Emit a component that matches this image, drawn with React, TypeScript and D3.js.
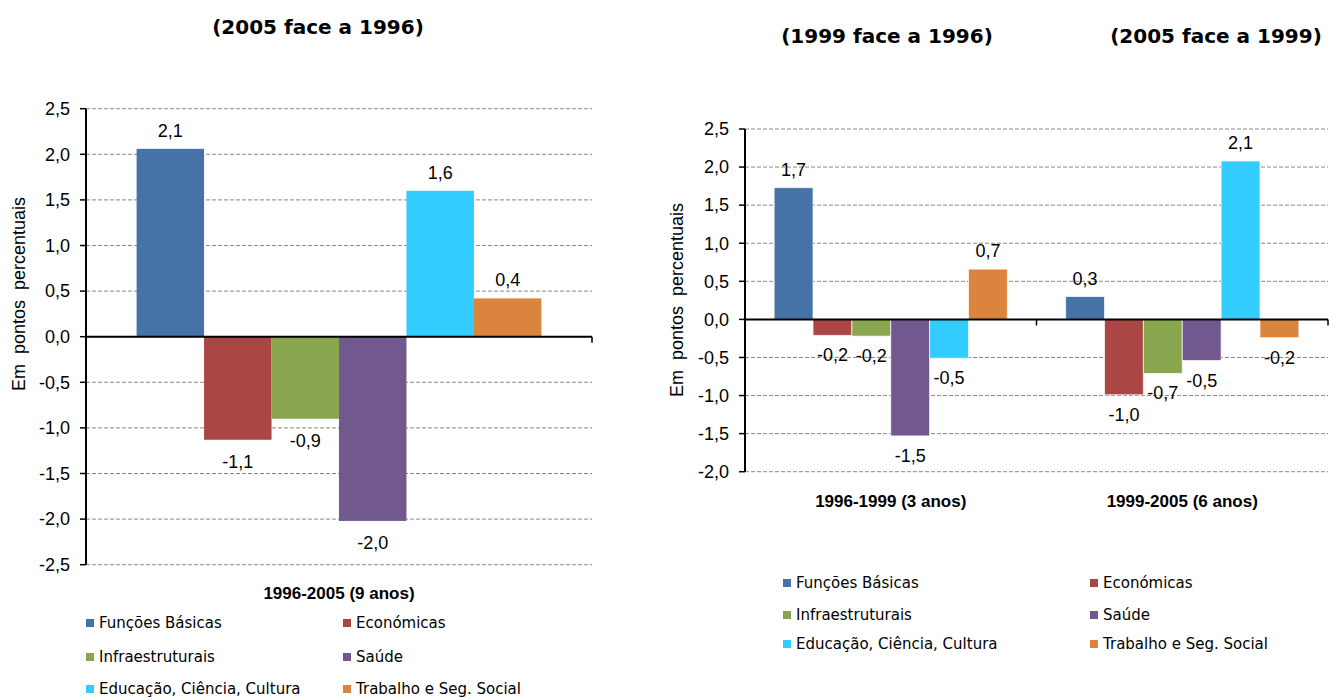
import React from "react";
import * as d3 from "d3";

const series = [
  "Funções Básicas",
  "Económicas",
  "Infraestruturais",
  "Saúde",
  "Educação, Ciência, Cultura",
  "Trabalho e Seg. Social",
];
const colors = ["#4572A7", "#AA4643", "#89A54E", "#71588F", "#33CCFF", "#DB843D"];

const leftCategories = ["1996-2005 (9 anos)"];
const leftValues = [[2.06, -1.13, -0.9, -2.02, 1.6, 0.42]];
const leftTicks = [-2.5, -2, -1.5, -1, -0.5, 0, 0.5, 1, 1.5, 2, 2.5];

const rightCategories = ["1996-1999 (3 anos)", "1999-2005 (6 anos)"];
const rightValues = [
  [1.73, -0.21, -0.22, -1.53, -0.51, 0.66],
  [0.3, -0.99, -0.71, -0.54, 2.08, -0.24],
];
const rightTicks = [-2, -1.5, -1, -0.5, 0, 0.5, 1, 1.5, 2, 2.5];

const titleLeft = "(2005 face a 1996)";
const titlesRight = ["(1999 face a 1996)", "(2005 face a 1999)"];
const yTitle = "Em  pontos  percentuais";

const locale = d3.formatLocale({
  decimal: ",",
  thousands: ".",
  grouping: [3],
  currency: ["", "€"],
  minus: "-",
});
const fmt = locale.format(".1f");

const AR = "Liberation Sans, Arial, sans-serif";
const DJ = "DejaVu Sans, sans-serif";

type PanelProps = {
  categories: string[];
  values: number[][];
  ticks: number[];
  x0: number;
  x1: number;
  yTop: number;
  yBot: number;
  domain: [number, number];
  catLabelY: number;
  negOffset: number;
  barStroke?: string;
  yTitleX: number;
  yTitleY: number;
};

function Panel(p: PanelProps) {
  const y = d3.scaleLinear().domain(p.domain).range([p.yBot, p.yTop]);
  const xCat = d3.scaleBand<string>().domain(p.categories).range([p.x0, p.x1]).padding(0);
  const xSer = d3
    .scaleBand<string>()
    .domain(series)
    .range([0, xCat.bandwidth()])
    .paddingInner(0)
    .paddingOuter(0.75);
  const y0 = y(0);
  return (
    <g>
      {p.ticks.map((t) => (
        <g key={"t" + t}>
          {t !== 0 && (
            <line
              x1={p.x0}
              x2={p.x1}
              y1={y(t)}
              y2={y(t)}
              stroke="#8a8a8a"
              strokeWidth={1}
              strokeDasharray="4,2"
            />
          )}
          <line x1={p.x0 - 6} x2={p.x0} y1={y(t)} y2={y(t)} stroke="#000" strokeWidth={1.5} />
          <text
            x={p.x0 - 16}
            y={y(t)}
            dy="0.35em"
            textAnchor="end"
            fontFamily={AR}
            fontSize={18}
            fill="#000"
          >
            {fmt(t)}
          </text>
        </g>
      ))}
      {p.categories.map((c, ci) => (
        <g key={c}>
          {p.values[ci].map((v, si) => {
            const bx = (xCat(c) as number) + (xSer(series[si]) as number);
            const bw = xSer.bandwidth();
            const top = Math.min(y(v), y0);
            const h = Math.abs(y(v) - y0);
            return (
              <g key={si}>
                <rect
                  x={bx}
                  y={top}
                  width={bw}
                  height={h}
                  fill={colors[si]}
                  stroke={p.barStroke || "none"}
                  strokeWidth={p.barStroke ? 1 : 0}
                />
                <text
                  x={bx + bw / 2}
                  y={v >= 0 ? y(v) - 12 : y(v) + p.negOffset}
                  textAnchor="middle"
                  fontFamily={AR}
                  fontSize={18}
                  fill="#000"
                >
                  {fmt(v)}
                </text>
              </g>
            );
          })}
          <text
            x={(xCat(c) as number) + xCat.bandwidth() / 2}
            y={p.catLabelY}
            textAnchor="middle"
            fontFamily={AR}
            fontWeight="bold"
            fontSize={17}
            fill="#000"
          >
            {c}
          </text>
          <line
            x1={(xCat(c) as number) + xCat.bandwidth()}
            x2={(xCat(c) as number) + xCat.bandwidth()}
            y1={y0}
            y2={y0 + 6}
            stroke="#000"
            strokeWidth={1.5}
          />
        </g>
      ))}
      <line x1={p.x0} x2={p.x1} y1={y0} y2={y0} stroke="#000" strokeWidth={2} />
      <line x1={p.x0} x2={p.x0} y1={p.yTop} y2={p.yBot} stroke="#000" strokeWidth={2} />
      <text
        transform={`translate(${p.yTitleX},${p.yTitleY}) rotate(-90)`}
        textAnchor="middle"
        dy="0.35em"
        fontFamily={AR}
        fontSize={18}
        fill="#000"
        style={{ whiteSpace: "pre" }}
      >
        {yTitle}
      </text>
    </g>
  );
}

function Legend({ x, x2, ys, fontSize }: { x: number; x2: number; ys: number[]; fontSize: number }) {
  return (
    <g>
      {series.map((s, i) => {
        const col = i % 2;
        const row = Math.floor(i / 2);
        const lx = col === 0 ? x : x2;
        const ly = ys[row];
        return (
          <g key={s}>
            <rect x={lx} y={ly - 4} width={8} height={8} fill={colors[i]} />
            <text
              x={lx + 13}
              y={ly}
              dy="0.36em"
              fontFamily={DJ}
              fontSize={fontSize}
              fill="#000"
              style={{ whiteSpace: "pre" }}
            >
              {s}
            </text>
          </g>
        );
      })}
    </g>
  );
}

export default function App() {
  return (
    <svg
      width={1329}
      height={699}
      style={{ position: "absolute", left: 0, top: 0, display: "block", background: "#fff" }}
    >
      <text x={318} y={34} textAnchor="middle" fontFamily={DJ} fontWeight="bold" fontSize={20} fill="#000">
        {titleLeft}
      </text>
      <text x={887} y={43} textAnchor="middle" fontFamily={DJ} fontWeight="bold" fontSize={20} fill="#000">
        {titlesRight[0]}
      </text>
      <text x={1216} y={43} textAnchor="middle" fontFamily={DJ} fontWeight="bold" fontSize={20} fill="#000">
        {titlesRight[1]}
      </text>
      <Panel
        categories={leftCategories}
        values={leftValues}
        ticks={leftTicks}
        x0={86}
        x1={592}
        yTop={108.7}
        yBot={564.7}
        domain={[-2.5, 2.5]}
        catLabelY={599}
        negOffset={28}
        yTitleX={19}
        yTitleY={294}
      />
      <Panel
        categories={rightCategories}
        values={rightValues}
        ticks={rightTicks}
        x0={745}
        x1={1328}
        yTop={129}
        yBot={471.7}
        domain={[-2, 2.5]}
        catLabelY={507}
        negOffset={26}
        barStroke="rgba(255,255,255,0.7)"
        yTitleX={677}
        yTitleY={300}
      />
      <Legend x={86} x2={343} ys={[623, 657, 689]} fontSize={15} />
      <Legend x={783} x2={1090} ys={[583, 615, 644]} fontSize={15} />
    </svg>
  );
}
